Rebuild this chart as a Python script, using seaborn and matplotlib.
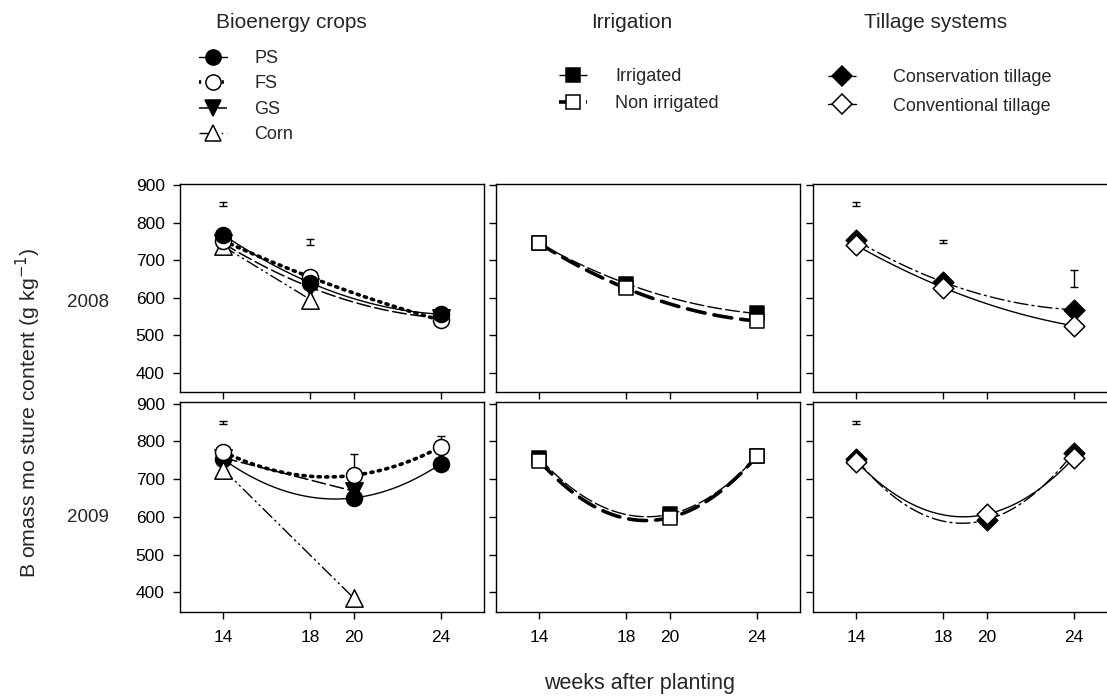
import numpy as np
import matplotlib
matplotlib.use("Agg")
import matplotlib.pyplot as plt
import seaborn as sns
from matplotlib.lines import Line2D

sns.set_style("ticks")
plt.rcParams['font.family'] = ['Liberation Sans', 'DejaVu Sans']

# ---------------- data ----------------
weeks_2008 = [14, 18, 24]
weeks_2009 = [14, 20, 24]
x_ticks = [14, 18, 20, 24]
y_ticks = [400, 500, 600, 700, 800, 900]

# Bioenergy crops
ps_2008 = [768, 640, 556]
fs_2008 = [752, 655, 540]
gs_2008 = [745, 628, 546]
corn_weeks_2008 = [14, 18]
corn_2008 = [737, 595]

ps_2009 = [752, 650, 740]
fs_2009 = [772, 710, 785]
gs_weeks_2009 = [14, 20]
gs_2009 = [756, 668]
corn_weeks_2009 = [14, 20]
corn_2009 = [725, 385]
fs_err_2009 = [0, 55, 28]

# Irrigation
irr_2008 = [745, 638, 558]
nonirr_2008 = [745, 625, 538]
irr_2009 = [755, 607, 760]
nonirr_2009 = [748, 598, 760]

# Tillage systems
cons_2008 = [753, 642, 568]
conv_2008 = [740, 627, 525]
cons_2009 = [752, 592, 770]
conv_2009 = [746, 607, 755]

# LSD bars (x, centre, half length)
lsd_bio_2008_x, lsd_bio_2008_y, lsd_bio_2008_h = [14, 18], [850, 750], [5, 8]
lsd_bio_2009_x, lsd_bio_2009_y, lsd_bio_2009_h = [14], [850], [4]
lsd_till_2008_x, lsd_till_2008_y, lsd_till_2008_h = [14, 18, 24], [850, 750, 652], [5, 4, 22]
lsd_till_2009_x, lsd_till_2009_y, lsd_till_2009_h = [14], [850], [4]

col_titles = ["Bioenergy crops", "Irrigation", "Tillage systems"]
row_labels = ["2008", "2009"]

# ---------------- styles ----------------
ST = {
    "PS": dict(marker="o", face="black", ls="-", lw=1.0, ms=11.5),
    "FS": dict(marker="o", face="white", ls=(0, (0.6, 1.5)), lw=2.6, ms=11.5),
    "GS": dict(marker="v", face="black", ls=(0, (9, 3)), lw=1.1, ms=12.5),
    "Corn": dict(marker="^", face="white", ls=(0, (9, 3, 1, 3, 1, 3)), lw=1.0, ms=12.5),
    "Irrigated": dict(marker="s", face="black", ls=(0, (10, 3)), lw=1.0, ms=10.5),
    "Non irrigated": dict(marker="s", face="white", ls=(0, (5, 2.5)), lw=2.6, ms=10.5),
    "Conservation tillage": dict(marker="D", face="black", ls=(0, (10, 3, 1.5, 3)), lw=1.0, ms=10.5),
    "Conventional tillage": dict(marker="D", face="white", ls="-", lw=1.0, ms=10.5),
}

W, H = 1107, 697
fig = plt.figure(figsize=(W / 100, H / 100), dpi=100)

col_x = [180, 496, 813]
panel_w = 304
row_y = [(184, 392), (402, 612)]


def make_ax(c, r):
    x0 = col_x[c] / W
    top, bot = row_y[r]
    ax = fig.add_axes([x0, 1 - bot / H, panel_w / W, (bot - top) / H])
    ax.set_xlim(12, 26)
    ax.set_ylim(348, 904)
    ax.set_xticks(x_ticks)
    ax.set_yticks(y_ticks)
    ax.tick_params(direction="out", length=5, width=1, labelsize=12.5,
                   top=False, right=False, colors="black")
    ax.tick_params(axis="y", pad=6)
    ax.tick_params(axis="x", pad=8)
    if r == 0:
        ax.set_xticklabels([])
    if c > 0:
        ax.set_yticklabels([])
    for s in ax.spines.values():
        s.set_visible(True)
        s.set_linewidth(1.0)
        s.set_color("black")
    return ax


def series(ax, x, y, key, z):
    st = ST[key]
    order = 2 if len(x) >= 3 else 1
    sns.regplot(x=np.array(x, float), y=np.array(y, float), order=order, ci=None,
                scatter=False, truncate=True, ax=ax,
                line_kws=dict(color="black", ls=st["ls"], lw=st["lw"], zorder=2,
                              dash_capstyle="round"))
    sns.scatterplot(x=x, y=y, marker=st["marker"], s=st["ms"] ** 2, color=st["face"],
                    edgecolor="black", linewidth=1.1, ax=ax, zorder=z, legend=False)


def lsd(ax, x, y, h):
    ax.errorbar(x, y, yerr=h, fmt="none", ecolor="black", elinewidth=1, capsize=3, capthick=1)


# Bioenergy 2008
ax = make_ax(0, 0)
series(ax, weeks_2008, gs_2008, "GS", 3)
series(ax, corn_weeks_2008, corn_2008, "Corn", 3)
series(ax, weeks_2008, fs_2008, "FS", 4)
series(ax, weeks_2008, ps_2008, "PS", 5)
lsd(ax, lsd_bio_2008_x, lsd_bio_2008_y, lsd_bio_2008_h)

# Bioenergy 2009
ax = make_ax(0, 1)
series(ax, weeks_2009, ps_2009, "PS", 3)
series(ax, gs_weeks_2009, gs_2009, "GS", 4)
series(ax, corn_weeks_2009, corn_2009, "Corn", 4)
series(ax, weeks_2009, fs_2009, "FS", 5)
ax.errorbar(weeks_2009, fs_2009, yerr=[[0] * len(fs_err_2009), fs_err_2009], fmt="none",
            ecolor="black", elinewidth=1, capsize=3, capthick=1, zorder=4.5)
lsd(ax, lsd_bio_2009_x, lsd_bio_2009_y, lsd_bio_2009_h)

# Irrigation
ax = make_ax(1, 0)
series(ax, weeks_2008, irr_2008, "Irrigated", 3)
series(ax, weeks_2008, nonirr_2008, "Non irrigated", 4)
ax = make_ax(1, 1)
series(ax, weeks_2009, irr_2009, "Irrigated", 3)
series(ax, weeks_2009, nonirr_2009, "Non irrigated", 4)

# Tillage
ax = make_ax(2, 0)
series(ax, weeks_2008, cons_2008, "Conservation tillage", 3)
series(ax, weeks_2008, conv_2008, "Conventional tillage", 4)
lsd(ax, lsd_till_2008_x, lsd_till_2008_y, lsd_till_2008_h)
ax = make_ax(2, 1)
series(ax, weeks_2009, cons_2009, "Conservation tillage", 3)
series(ax, weeks_2009, conv_2009, "Conventional tillage", 4)
lsd(ax, lsd_till_2009_x, lsd_till_2009_y, lsd_till_2009_h)

# ---------------- legends ----------------
def handle(key):
    st = ST[key]
    return Line2D([], [], color="black", ls=st["ls"], lw=st["lw"], marker=st["marker"],
                  markersize=st["ms"] * 0.95, markerfacecolor=st["face"],
                  markeredgecolor="black", markeredgewidth=1.1)


def legend(keys, x_px, y_px, textpad, spacing):
    fig.legend([handle(k) for k in keys], keys, loc="upper left",
               bbox_to_anchor=(x_px / W, 1 - y_px / H), frameon=False, fontsize=13,
               handlelength=1.55, handletextpad=textpad, labelspacing=spacing,
               borderpad=0, borderaxespad=0)


legend(["PS", "FS", "GS", "Corn"], 199, 50, 1.5, 0.47)
legend(["Irrigated", "Non irrigated"], 559, 68, 1.55, 0.55)
legend(["Conservation tillage", "Conventional tillage"], 828, 69, 2.05, 0.65)

title_x = [291, 632, 936]
for t, xx in zip(col_titles, title_x):
    fig.text(xx / W, 1 - 22 / H, t, ha="center", va="center", fontsize=15)

for lab, yy in zip(row_labels, [302, 517]):
    fig.text(88 / W, 1 - yy / H, lab, ha="center", va="center", fontsize=13.5)

fig.text(28 / W, 1 - 413 / H, "B omass mo sture content (g kg$^{-1}$)", rotation=90,
         ha="center", va="center", fontsize=15.3)
fig.text(640 / W, 1 - 683 / H, "weeks after planting", ha="center", va="center", fontsize=15.5)

fig.savefig("out.png", dpi=100)
